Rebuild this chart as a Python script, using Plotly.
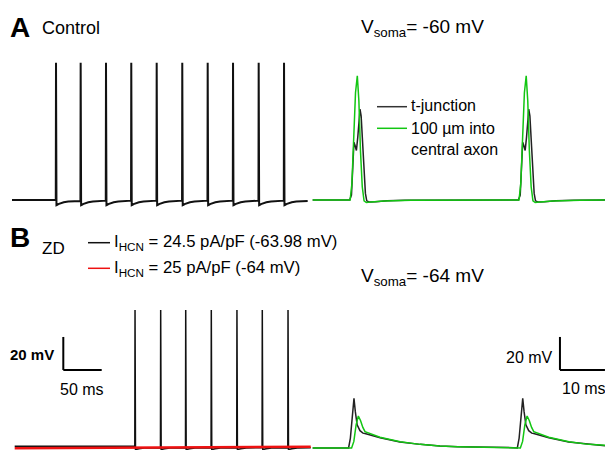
import plotly.graph_objects as go

W, H = 605, 450

# ---------------- Panel A, left: Control soma spike train ----------------
A_SOMA_START_MS, A_SOMA_END_MS = 0.0, 385.0
A_SOMA_REST_MV = -60.0
A_SOMA_PEAK_MV = 23.2
A_SOMA_SPIKE_MS = [57.3, 89.4, 122.4, 155.3, 188.4, 221.7, 254.8, 287.8, 321.2, 354.2]
A_SOMA_AHP_MS = [0.6, 1.5, 3.0, 6.0, 10.0, 16.0, 24.0, 32.0]
A_SOMA_AHP_MV = [-63.2, -63.0, -62.5, -61.9, -61.4, -60.9, -60.6, -60.4]

# ---------------- Panel B, left: ZD soma traces ----------------
B_SOMA_START_MS, B_SOMA_END_MS = 3.5, 389.0
B_BLACK_REST_MV = -63.0
B_BLACK_PEAK_MV = 19.6
B_BLACK_SPIKE_MS = [160.2, 193.6, 226.2, 259.5, 292.9, 325.9, 359.4]
B_BLACK_AHP_MS = [0.6, 2.0, 5.0, 12.0, 25.0]
B_BLACK_AHP_MV = [-65.0, -64.8, -64.4, -64.0, -63.8]
B_RED_MS = [3.5, 389.0]
B_RED_MV = [-64.1, -63.3]

# ---------------- Panel A, right: axon (Vsoma = -60 mV) ----------------
A_AX_START_MS, A_AX_END_MS = 0.15, 65.1
A_AX_REST_MV = -60.0
A_TJ_SPIKE_MS = [10.67, 48.17]          # t-junction main peak times
A_TJ_SHAPE_MS = [-2.3, -1.9, -1.6, -1.35, -1.1, -0.8, -0.5, -0.2, 0.0, 0.25, 0.6, 0.9, 1.2, 1.5, 2.0, 3.5, 6.0, 10.0, 20.0]
A_TJ_SHAPE_MV = [-60.0, -57.0, -40.0, -25.0, -27.0, -30.0, -22.0, -8.0, -5.0, -9.0, -28.0, -45.0, -56.0, -60.5, -61.2, -61.0, -60.5, -60.2, -60.0]
A_CA_SPIKE_MS = [10.07, 47.6]           # central axon peak times
A_CA_SHAPE_MS = [-1.6, -1.2, -0.8, -0.4, 0.0, 0.35, 0.7, 1.1, 1.5, 2.0, 3.0, 6.0, 12.0, 20.0]
A_CA_SHAPE_MV = [-60.0, -50.0, -25.0, 5.0, 15.2, 0.0, -30.0, -52.0, -60.5, -61.5, -61.2, -60.6, -60.2, -60.0]

# ---------------- Panel B, right: axon (Vsoma = -64 mV) ----------------
B_AX_START_MS, B_AX_END_MS = 0.15, 65.1
B_AX_REST_MV = -64.0
B_TJ_SPIKE_MS = [9.33, 46.83]
B_TJ_SHAPE_MS = [-1.2, -0.8, -0.4, 0.0, 0.3, 0.7, 1.33, 2.0, 2.44, 5.8, 10.2, 14.7, 19.1, 23.1, 35.4]
B_TJ_SHAPE_MV = [-64.0, -58.0, -44.0, -33.9, -42.0, -50.0, -53.5, -55.0, -55.2, -57.8, -60.3, -61.8, -62.8, -63.2, -63.8]
B_CA_SPIKE_MS = [10.3, 47.8]
B_CA_SHAPE_MS = [-1.5, -1.0, -0.5, 0.0, 0.5, 1.0, 1.48, 4.8, 9.3, 13.7, 18.1, 22.1, 34.4]
B_CA_SHAPE_MV = [-64.0, -60.0, -50.0, -44.6, -47.5, -51.5, -54.1, -57.5, -60.2, -61.8, -62.8, -63.2, -63.8]

# ---------------- Colors ----------------
BLACK = "#111111"
TJ_BLACK = "#222222"
GREEN = "#12c612"
RED = "#ee1111"
FONT = "Liberation Sans, Arial, sans-serif"


def spike_train(start, end, rest, spikes, peak, ahp_t, ahp_v, rise=0.3):
    t, v = [start], [rest]
    for i, s in enumerate(spikes):
        nxt = spikes[i + 1] if i + 1 < len(spikes) else end
        t += [s - rise, s]
        v += [v[-1], peak]
        for dt, dv in zip(ahp_t, ahp_v):
            if s + dt < nxt - rise:
                t.append(s + dt)
                v.append(dv)
    t.append(end)
    v.append(v[-1])
    return t, v


def templated(start, end, rest, spikes, shape_t, shape_v):
    t, v = [start], [rest]
    for s in spikes:
        for dt, dv in zip(shape_t, shape_v):
            if s + dt > t[-1]:
                t.append(s + dt)
                v.append(dv)
    if end > t[-1]:
        t.append(end)
        v.append(v[-1])
    return t, v


fig = go.Figure()

# pixel geometry helpers for axis domains
def xd(p0, p1):
    return [p0 / W, p1 / W]

def yd(ptop, pbot):
    return [1 - pbot / H, 1 - ptop / H]

L_PX_PER_MS, L_ORIGIN = 0.768, 12.0
R_PX_PER_MS, R_ORIGIN = 4.5, 312.0
PX_PER_MV = 1.65
SPLIT = 311.0

x_left_range = [(0 - L_ORIGIN) / L_PX_PER_MS, (SPLIT - L_ORIGIN) / L_PX_PER_MS]
x_right_range = [(SPLIT - R_ORIGIN) / R_PX_PER_MS, (W - R_ORIGIN) / R_PX_PER_MS]
A_TOP, A_BOT, A_BASE = 40.0, 215.0, 200.0
B_TOP, B_BOT, B_BASE = 280.0, 450.0, 448.0
yA_range = [A_SOMA_REST_MV - (A_BOT - A_BASE) / PX_PER_MV, A_SOMA_REST_MV + (A_BASE - A_TOP) / PX_PER_MV]
yB_range = [B_AX_REST_MV - (B_BOT - B_BASE) / PX_PER_MV, B_AX_REST_MV + (B_BASE - B_TOP) / PX_PER_MV]

# A left
t, v = spike_train(A_SOMA_START_MS, A_SOMA_END_MS, A_SOMA_REST_MV, A_SOMA_SPIKE_MS,
                   A_SOMA_PEAK_MV, A_SOMA_AHP_MS, A_SOMA_AHP_MV)
fig.add_trace(go.Scatter(x=t, y=v, mode="lines", line=dict(color=BLACK, width=2), xaxis="x", yaxis="y"))

# A right
t, v = templated(A_AX_START_MS, A_AX_END_MS, A_AX_REST_MV, A_TJ_SPIKE_MS, A_TJ_SHAPE_MS, A_TJ_SHAPE_MV)
fig.add_trace(go.Scatter(x=t, y=v, mode="lines", line=dict(color=TJ_BLACK, width=1.5), xaxis="x2", yaxis="y2"))
t, v = templated(A_AX_START_MS, A_AX_END_MS, A_AX_REST_MV, A_CA_SPIKE_MS, A_CA_SHAPE_MS, A_CA_SHAPE_MV)
fig.add_trace(go.Scatter(x=t, y=v, mode="lines", line=dict(color=GREEN, width=1.5), xaxis="x2", yaxis="y2"))

# B left
t, v = spike_train(B_SOMA_START_MS, B_SOMA_END_MS, B_BLACK_REST_MV, B_BLACK_SPIKE_MS,
                   B_BLACK_PEAK_MV, B_BLACK_AHP_MS, B_BLACK_AHP_MV)
fig.add_trace(go.Scatter(x=t, y=v, mode="lines", line=dict(color=BLACK, width=1.5), xaxis="x3", yaxis="y3"))
fig.add_trace(go.Scatter(x=B_RED_MS, y=B_RED_MV, mode="lines", line=dict(color=RED, width=2.5), xaxis="x3", yaxis="y3"))

# B right
t, v = templated(B_AX_START_MS, B_AX_END_MS, B_AX_REST_MV, B_TJ_SPIKE_MS, B_TJ_SHAPE_MS, B_TJ_SHAPE_MV)
fig.add_trace(go.Scatter(x=t, y=v, mode="lines", line=dict(color=TJ_BLACK, width=1.5), xaxis="x4", yaxis="y4"))
t, v = templated(B_AX_START_MS, B_AX_END_MS, B_AX_REST_MV, B_CA_SPIKE_MS, B_CA_SHAPE_MS, B_CA_SHAPE_MV)
fig.add_trace(go.Scatter(x=t, y=v, mode="lines", line=dict(color=GREEN, width=1.5), xaxis="x4", yaxis="y4"))

hidden = dict(visible=False, showgrid=False, zeroline=False, fixedrange=True)
fig.update_layout(
    width=W, height=H, margin=dict(l=0, r=0, t=0, b=0),
    paper_bgcolor="white", plot_bgcolor="white", showlegend=False,
    xaxis=dict(domain=xd(0, SPLIT), range=x_left_range, anchor="y", **hidden),
    yaxis=dict(domain=yd(A_TOP, A_BOT), range=yA_range, anchor="x", **hidden),
    xaxis2=dict(domain=xd(SPLIT, W), range=x_right_range, anchor="y2", **hidden),
    yaxis2=dict(domain=yd(A_TOP, A_BOT), range=yA_range, anchor="x2", **hidden),
    xaxis3=dict(domain=xd(0, SPLIT), range=x_left_range, anchor="y3", **hidden),
    yaxis3=dict(domain=yd(B_TOP, B_BOT), range=yB_range, anchor="x3", **hidden),
    xaxis4=dict(domain=xd(SPLIT, W), range=x_right_range, anchor="y4", **hidden),
    yaxis4=dict(domain=yd(B_TOP, B_BOT), range=yB_range, anchor="x4", **hidden),
)

# ---------------- Scale bars (data units) ----------------
SB_L_T0, SB_L_V0, SB_L_DT, SB_L_DV = 66.8, -16.7, 50.0, 20.0
SB_R_T0, SB_R_V0, SB_R_DT, SB_R_DV = 55.1, -16.7, 10.0, 20.0
for xr, yr, t0, v0, dt, dv in [("x3", "y3", SB_L_T0, SB_L_V0, SB_L_DT, SB_L_DV),
                               ("x4", "y4", SB_R_T0, SB_R_V0, SB_R_DT, SB_R_DV)]:
    fig.add_shape(type="line", xref=xr, yref=yr, x0=t0, x1=t0, y0=v0, y1=v0 + dv,
                  line=dict(color="black", width=2))
    fig.add_shape(type="line", xref=xr, yref=yr, x0=t0, x1=t0 + dt, y0=v0, y1=v0,
                  line=dict(color="black", width=2))

# ---------------- Legend lines (paper) ----------------
def hline(x0, x1, y, color, width=1.5):
    fig.add_shape(type="line", xref="paper", yref="paper", x0=x0 / W, x1=x1 / W,
                  y0=1 - y / H, y1=1 - y / H, line=dict(color=color, width=width))

hline(377, 407, 106.7, "#333333")
hline(377, 407, 128.3, GREEN)
hline(88, 110, 242.7, "#111111")
hline(88, 110, 268.3, RED)

# ---------------- Text ----------------
def txt(x, y, s, size, anchor="left"):
    fig.add_annotation(x=x / W, y=1 - y / H, xref="paper", yref="paper", text=s,
                       showarrow=False, xanchor=anchor, yanchor="middle",
                       font=dict(family=FONT, size=size, color="black"))

txt(8, 27, "<b>A</b>", 28)
txt(40, 28, "Control", 18)
txt(359, 28, "V<sub>soma</sub>= -60 mV", 19)
txt(409, 106, "t-junction", 16)
txt(409, 128, "100 \u00b5m into", 16)
txt(409, 150, "central axon", 16)

txt(8, 238, "<b>B</b>", 28)
txt(40, 248, "ZD", 17)
txt(112, 242, "I<sub>HCN</sub> = 24.5 pA/pF (-63.98 mV)", 16.7)
txt(112, 268, "I<sub>HCN</sub> = 25 pA/pF (-64 mV)", 16.7)
txt(359, 277, "V<sub>soma</sub>= -64 mV", 19)

txt(8, 354, "<b>20 mV</b>", 15)
txt(58, 389, "50 ms", 16)
txt(504, 357, "20 mV", 16)
txt(560, 388, "10 ms", 16)

fig.write_html("out.html")
